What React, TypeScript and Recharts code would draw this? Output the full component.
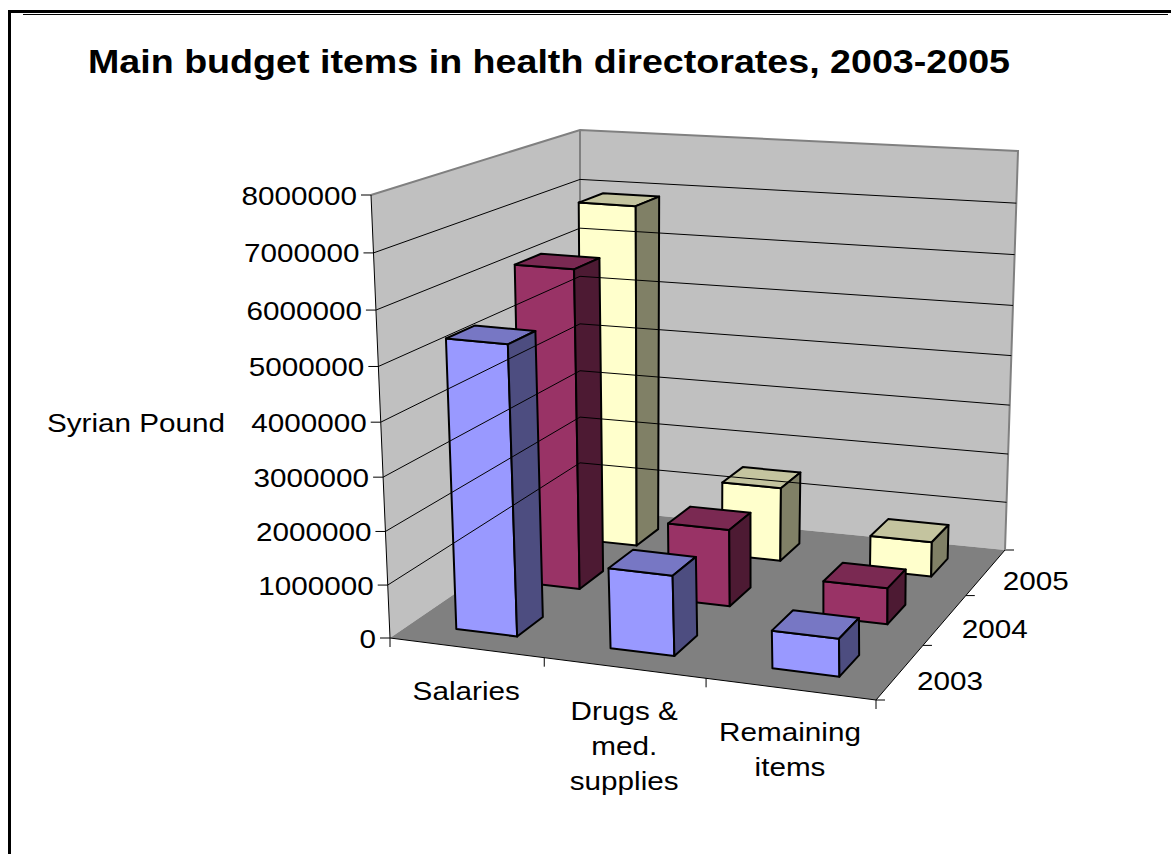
import { Bar, ComposedChart, ReferenceArea, ReferenceLine, XAxis, YAxis } from 'recharts';

const categories = ['Salaries', 'Drugs & med. supplies', 'Remaining items'];
const categoryLines = [['Salaries'], ['Drugs &', 'med.', 'supplies'], ['Remaining', 'items']];
const depthLabels = ['2003', '2004', '2005'];
const values2003 = [5400000, 1500000, 700000];
const values2004 = [6200000, 1500000, 700000];
const values2005 = [6900000, 1500000, 700000];
const yTicks = [0, 1000000, 2000000, 3000000, 4000000, 5000000, 6000000, 7000000, 8000000];
const gridValues = yTicks.slice(1, -1);

const data = categories.map((category, i) => ({
  category,
  v2003: values2003[i],
  v2004: values2004[i],
  v2005: values2005[i],
}));

const W = 1171;
const H = 854;
const PLOT_TOP = 195;
const PLOT_BOTTOM = 638;
const BAR_HALF = 0.2; // half a bar, as a share of its category or depth slot

// corners of the 3d box on screen: [category][depth][height]
const box = [
  [
    [[390, 638], [371, 195]],
    [[580, 508], [580, 130]],
  ],
  [
    [[876, 700], [870, 236]],
    [[1005, 550], [1018, 151]],
  ],
];

// perspective squeeze along one box axis
const warp = (t: number, k: number) => (k * t) / (1 + t * (k - 1));

function project(u: number, v: number, w: number): [number, number] {
  const a = warp(u, 0.93);
  const b = warp(v, 1.145);
  const c = warp(w, 0.95);
  const out: [number, number] = [0, 0];
  for (let k = 0; k < 2; k++) {
    let sum = 0;
    for (let i = 0; i < 2; i++) {
      for (let j = 0; j < 2; j++) {
        for (let l = 0; l < 2; l++) {
          sum += (i ? a : 1 - a) * (j ? b : 1 - b) * (l ? c : 1 - c) * box[i][j][l][k];
        }
      }
    }
    out[k] = sum;
  }
  return out;
}

const pts = (list: [number, number][]) => list.map((p) => p.join(',')).join(' ');
const heightOf = (y: number) => (PLOT_BOTTOM - y) / (PLOT_BOTTOM - PLOT_TOP);

const labelFont = { fontFamily: '"Liberation Sans", Arial, sans-serif', fontSize: 26.5, fill: '#000' };

function Label({ x, y, anchor = 'middle', children }: any) {
  return (
    <text transform={`translate(${x},${y}) scale(1.12,1)`} textAnchor={anchor} {...labelFont}>
      {children}
    </text>
  );
}

// walls and floor of the box
function BoxShape() {
  return (
    <g>
      <polygon
        points={pts([project(0, 0, 0), project(0, 1, 0), project(0, 1, 1), project(0, 0, 1)])}
        fill="#c0c0c0"
      />
      <polygon
        points={pts([project(0, 1, 0), project(1, 1, 0), project(1, 1, 1), project(0, 1, 1)])}
        fill="#c0c0c0"
      />
      <polygon
        points={pts([project(0, 0, 0), project(1, 0, 0), project(1, 1, 0), project(0, 1, 0)])}
        fill="#808080"
      />
      <polyline
        points={pts([project(0, 0, 1), project(0, 1, 1), project(1, 1, 1), project(1, 1, 0)])}
        fill="none"
        stroke="#808080"
        strokeWidth={2}
      />
      <polyline points={pts([project(0, 1, 0), project(0, 1, 1)])} fill="none" stroke="#808080" strokeWidth={2} />
      <polyline points={pts([project(0, 0, 1), project(0, 0, 0), project(1, 0, 0), project(1, 1, 0)])} fill="none" stroke="#000" strokeWidth={1} />
    </g>
  );
}

function GridShape(props: any) {
  const w = heightOf(props.y1 ?? props.y);
  return (
    <polyline
      points={pts([project(0, 0, w), project(0, 1, w), project(1, 1, w)])}
      fill="none"
      stroke="#000"
      strokeWidth={1}
    />
  );
}

function makeBarShape(depth: number, front: string, top: string, side: string) {
  return function BarShape(props: any) {
    const w = heightOf(props.y);
    const u0 = (props.index + 0.5 - BAR_HALF) / 3;
    const u1 = (props.index + 0.5 + BAR_HALF) / 3;
    const v0 = (depth + 0.5 - BAR_HALF) / 3;
    const v1 = (depth + 0.5 + BAR_HALF) / 3;
    const line = { stroke: '#000', strokeWidth: 2, strokeLinejoin: 'round' as const };
    return (
      <g>
        <polygon
          points={pts([project(u0, v0, 0), project(u1, v0, 0), project(u1, v0, w), project(u0, v0, w)])}
          fill={front}
          {...line}
        />
        <polygon
          points={pts([project(u0, v0, w), project(u1, v0, w), project(u1, v1, w), project(u0, v1, w)])}
          fill={top}
          {...line}
        />
        <polygon
          points={pts([project(u1, v0, 0), project(u1, v1, 0), project(u1, v1, w), project(u1, v0, w)])}
          fill={side}
          {...line}
        />
      </g>
    );
  };
}

function ValueTick(props: any) {
  const [x, y] = project(0, 0, heightOf(props.y));
  return (
    <g>
      <line x1={x - 10} y1={y} x2={x} y2={y} stroke="#000" strokeWidth={1} />
      <Label x={x - 14} y={y + 9.5} anchor="end">
        {props.payload.value}
      </Label>
    </g>
  );
}

function CategoryTick(props: any) {
  const i = props.index;
  const [cx, cy] = project((i + 0.5) / 3, 0, 0);
  const [tx, ty] = project((i + 1) / 3, 0, 0);
  return (
    <g>
      <line x1={tx} y1={ty} x2={tx} y2={ty + 9} stroke="#000" strokeWidth={1} />
      {i === 0 && (
        <line x1={390} y1={638} x2={390} y2={647} stroke="#000" strokeWidth={1} />
      )}
      {categoryLines[i].map((line, n) => (
        <Label key={line} x={cx} y={cy + 52 + n * 35}>
          {line}
        </Label>
      ))}
    </g>
  );
}

function DepthAxis() {
  return (
    <g>
      {depthLabels.map((label, i) => {
        const [cx, cy] = project(1, (i + 0.5) / 3, 0);
        const [tx, ty] = project(1, (i + 1) / 3, 0);
        return (
          <g key={label}>
            <line x1={tx} y1={ty} x2={tx + 9} y2={ty} stroke="#000" strokeWidth={1} />
            <Label x={cx + 50} y={cy + 18}>
              {label}
            </Label>
          </g>
        );
      })}
      <line x1={876} y1={700} x2={885} y2={700} stroke="#000" strokeWidth={1} />
    </g>
  );
}

export default function App() {
  return (
    <div style={{ position: 'absolute', left: 0, top: 0, width: W, height: H, background: '#fff', overflow: 'hidden' }}>
      {/* frame lines */}
      <div style={{ position: 'absolute', left: 8, top: 10, width: W - 8, height: 3, background: '#000' }} />
      <div style={{ position: 'absolute', left: 23, top: 14, width: 1145, height: 1, background: '#000' }} />
      <div style={{ position: 'absolute', left: 8, top: 10, width: 3, height: H - 10, background: '#000' }} />
      <ComposedChart
        width={W}
        height={H}
        data={data}
        barCategoryGap={0}
        margin={{ top: PLOT_TOP, right: 0, bottom: H - PLOT_BOTTOM - 30, left: 0 }}
        style={{ position: 'absolute', left: 0, top: 0 }}
      >
        <XAxis dataKey="category" height={30} axisLine={false} tickLine={false} tick={CategoryTick} interval={0} />
        <YAxis
          domain={[0, 8000000]}
          ticks={yTicks}
          width={60}
          axisLine={false}
          tickLine={false}
          tick={ValueTick}
          interval={0}
        />
        <ReferenceArea y1={0} y2={8000000} shape={BoxShape} />
        {gridValues.map((t) => (
          <ReferenceLine key={t} y={t} shape={GridShape} />
        ))}
        <Bar dataKey="v2005" isAnimationActive={false} shape={makeBarShape(2, '#ffffcc', '#c4c49f', '#808066')} />
        <Bar dataKey="v2004" isAnimationActive={false} shape={makeBarShape(1, '#993366', '#7a2952', '#4d1a33')} />
        <Bar dataKey="v2003" isAnimationActive={false} shape={makeBarShape(0, '#9999ff', '#7777c4', '#4d4d80')} />
        <DepthAxis />
        <text
          x={88}
          y={73}
          textLength={922}
          lengthAdjust="spacingAndGlyphs"
          fontFamily='"Liberation Sans", Arial, sans-serif'
          fontWeight="bold"
          fontSize={33}
          fill="#000"
        >
          Main budget items in health directorates, 2003-2005
        </text>
        <Label x={136} y={432}>
          Syrian Pound
        </Label>
      </ComposedChart>
    </div>
  );
}
